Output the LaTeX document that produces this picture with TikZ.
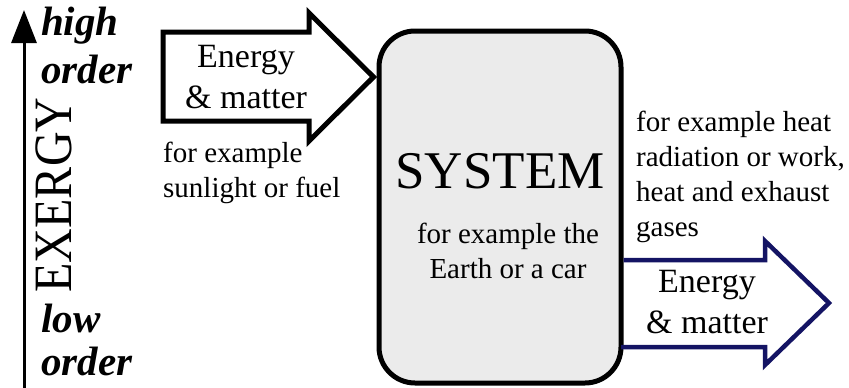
\documentclass[tikz,border=0pt]{standalone}
\usepackage{fontspec}
\setmainfont{Liberation Serif}
\usetikzlibrary{positioning,arrows.meta,calc}
\definecolor{flownavy}{RGB}{20,20,100}
\definecolor{sysgray}{RGB}{235,235,235}

\begin{document}
\begin{tikzpicture}[x=1pt,y=-1pt,
    txt/.style={inner sep=0pt, anchor=base west, align=left, font=\fontsize{29}{35}\selectfont},
    flowtxt/.style={inner sep=0pt, anchor=base, align=center, font=\fontsize{34}{41}\selectfont},
    ordertxt/.style={inner sep=0pt, anchor=base west, align=left, font=\fontsize{41}{#1}\selectfont\bfseries\itshape},
    sysbox/.style={draw, line width=5pt, fill=sysgray, rounded corners=36pt,
      minimum width=242pt, minimum height=352pt}]
  \useasboundingbox (0,0) rectangle (849,388);
  % Exergy axis (multi-line nodes sit on their last baseline)
  \coordinate (axbot) at (24,388);
  \coordinate (axtop) at (24,10);
  \draw[line width=3pt, -{Triangle[length=33pt,width=25pt]}] (axbot) -- (axtop);
  \node[inner sep=0pt, rotate=90, font=\fontsize{54}{54}\selectfont, xscale=0.89] (exergy) at (53.5,195) {EXERGY};
  \node[ordertxt=48] (high) at (41,83) {high\\order};
  \node[ordertxt=43] (low) at (41,375) {low\\order};
  % System
  \node[sysbox] (sys) at (500,207) {};
  \node[inner sep=0pt, anchor=base, font=\fontsize{53}{53}\selectfont] (systitle) at (500,188) {SYSTEM};
  \node[txt, anchor=base, align=center] (sysnote) at (508,278) {for example the\\Earth or a car};
  % Incoming flow
  \coordinate (inlevel) at (0,77);
  \coordinate (intip) at ($(sys.west |- inlevel)+(-3,0)$);
  \draw[line width=5pt, line join=miter, miter limit=4]
    (163,32) -- (309,32) -- (309,13) -- (intip) -- (309,141) -- (309,121) -- (163,121) -- cycle;
  \node[flowtxt] (inflow) at (246,108) {Energy\\\& matter};
  \node[txt] (innote) at (163,197) {for example\\sunlight or fuel};
  % Outgoing flow
  \coordinate (outlevel) at (0,260);
  \draw[flownavy, line width=4.5pt, line join=miter, miter limit=4]
    (sys.east |- outlevel) -- (765,260) -- (765,241) -- (829,303) -- (765,365) -- (765,347) -- (621,347);
  \node[flowtxt] (outflow) at (707,333) {Energy\\\& matter};
  \node[txt] (outnote) at (636,236) {for example heat\\radiation or work,\\heat and exhaust\\gases};
\end{tikzpicture}
\end{document}
